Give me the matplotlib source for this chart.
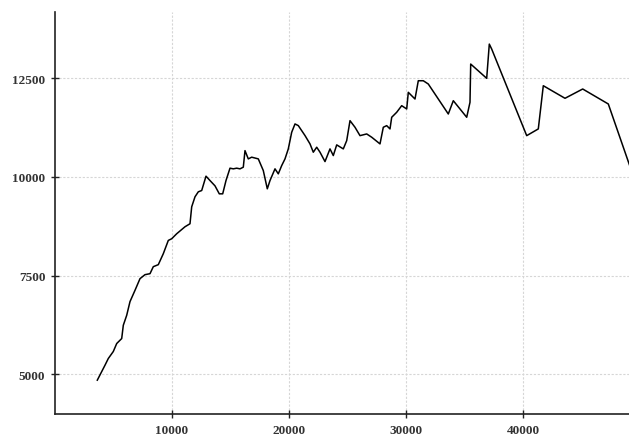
import matplotlib
matplotlib.use("Agg")
import matplotlib.pyplot as plt

x_vals = [3615, 4274, 4556, 4983, 5274, 5701, 5838, 6128, 6410, 6838, 7265, 7692, 8120,
          8402, 8829, 9256, 9684, 9974, 10401, 11111, 11538, 11684, 11966, 12248,
          12539, 12906, 13248, 13675, 14043, 14333, 14615, 14957, 15239, 15530, 15812,
          16094, 16239, 16521, 16812, 17376, 17803, 18145, 18376, 18803, 19085, 19376,
          19658, 19940, 20231, 20513, 20795, 21368, 21795, 22077, 22368,
          22650, 23077, 23504, 23786, 24077, 24641, 24932, 25214, 25641, 26068, 26641,
          27068, 27778, 28060, 28350, 28632, 28778, 29205, 29632, 30060, 30197, 30487,
          30769, 31051, 31479, 31906,
          33615, 34043, 35188, 35470, 35530, 36897, 37120, 37325, 40316, 41308, 41735,
          43590, 45103, 47291, 49100]
y_vals = [4856, 5235, 5404, 5581, 5783, 5909, 6245, 6497, 6843, 7129, 7424, 7525, 7550,
          7727, 7778, 8055, 8391, 8434, 8560, 8737, 8813, 9242, 9495, 9621,
          9654, 10017, 9906, 9772, 9570, 9570, 9906, 10219, 10202, 10219, 10202,
          10244, 10663, 10454, 10497, 10454, 10159, 9697, 9906, 10202, 10076, 10285,
          10454, 10707, 11128, 11338, 11296, 11044, 10833, 10623, 10749,
          10623, 10386, 10707, 10538, 10808, 10707, 10916, 11421, 11254, 11042, 11085,
          11002, 10833, 11254, 11295, 11212, 11507, 11633, 11800, 11717, 12138, 12052,
          11969, 12431, 12431, 12348,
          11590, 11926, 11507, 11886, 12853, 12492, 13358, 13232, 11042, 11212, 12305,
          11987, 12222, 11843, 10300]

x_ticks = [10000, 20000, 30000, 40000]
y_ticks = [5000, 7500, 10000, 12500]

fig = plt.figure(figsize=(6.29, 4.39), dpi=100)
ax = fig.add_axes([55/629, (439-415)/439, (629-55)/629, (415-13)/439])

ax.plot(x_vals, y_vals, color="black", linewidth=1.1, clip_on=True)

ax.set_xlim(0, 49060)
ax.set_ylim(4000, 14170)
ax.set_xticks(x_ticks)
ax.set_yticks(y_ticks)
ax.set_xticklabels([str(v) for v in x_ticks])
ax.set_yticklabels([str(v) for v in y_ticks])

ax.grid(True, color="#d6d6d6", linestyle=(0, (2, 1.5)), linewidth=0.8)
ax.set_axisbelow(True)

for s in ["top", "right"]:
    ax.spines[s].set_visible(False)
for s in ["left", "bottom"]:
    ax.spines[s].set_linewidth(1.2)
    ax.spines[s].set_color("#222222")

ax.tick_params(axis="both", direction="inout", length=6, width=1.0, color="#222222",
               labelsize=9.5, pad=4)
for lbl in ax.get_xticklabels() + ax.get_yticklabels():
    lbl.set_family("Liberation Serif")
    lbl.set_fontweight("bold")
    lbl.set_color("#333333")

fig.savefig("out.png", dpi=100)
